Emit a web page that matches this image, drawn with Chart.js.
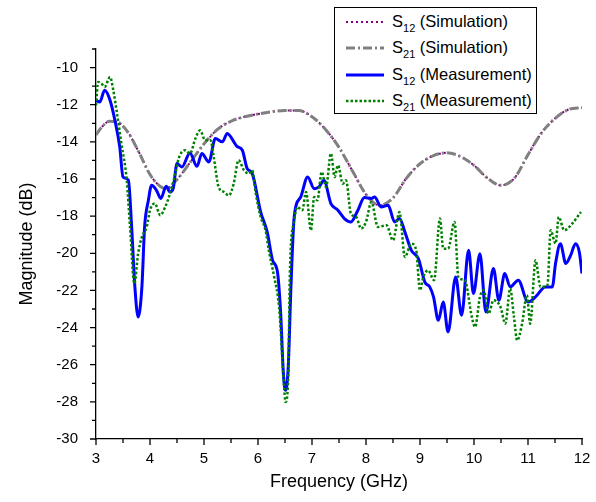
<!DOCTYPE html>
<html>
<head>
<meta charset="utf-8">
<script src="https://cdn.jsdelivr.net/npm/chart.js@4.4.1/dist/chart.umd.min.js"></script>
<style>
  html, body { margin: 0; padding: 0; background: #fff; }
  #wrap { position: relative; width: 596px; height: 502px; }
  #legend {
    position: absolute; left: 334px; top: 7px; width: 201px; height: 105px;
    border: 1px solid #000; background: #fff;
    font-family: Arial, 'Liberation Sans', sans-serif; font-size: 16.5px; color: #000;
  }
  .row { position: absolute; left: 0; width: 200px; height: 26px; }
  .row svg { position: absolute; left: 10px; top: 10px; }
  .row span { position: absolute; left: 57px; top: 3px; white-space: nowrap; }
  .row sub { font-size: 11px; vertical-align: -5px; line-height: 0; }
</style>
</head>
<body>
<div id="wrap">
  <canvas id="chart" width="596" height="502"></canvas>
  <div id="legend">
    <div class="row" style="top:1px">
      <svg width="40" height="6"><line x1="1" y1="3" x2="39" y2="3" stroke="#800080" stroke-width="2" stroke-dasharray="2,3"/></svg>
      <span>S<sub>12</sub> (Simulation)</span>
    </div>
    <div class="row" style="top:27px">
      <svg width="40" height="6"><line x1="1" y1="3" x2="39" y2="3" stroke="#808080" stroke-width="3" stroke-dasharray="9,3,2,3"/></svg>
      <span>S<sub>21</sub> (Simulation)</span>
    </div>
    <div class="row" style="top:54px">
      <svg width="40" height="6"><line x1="1" y1="3" x2="39" y2="3" stroke="#0000ff" stroke-width="3"/></svg>
      <span>S<sub>12</sub> (Measurement)</span>
    </div>
    <div class="row" style="top:80px">
      <svg width="40" height="6"><line x1="1" y1="3" x2="39" y2="3" stroke="#008000" stroke-width="2.5" stroke-dasharray="2.5,2"/></svg>
      <span>S<sub>21</sub> (Measurement)</span>
    </div>
  </div>
</div>
<script>
'use strict';

// axis limits and ticks
const xMin = 3, xMax = 12;
const yMin = -30, yMax = -9;

// simulated S12 / S21 (curves coincide)
const simFreq = [3.0, 3.1, 3.25, 3.4, 3.6, 3.8, 4.0, 4.2, 4.3, 4.5, 4.75, 5.0, 5.25, 5.5, 5.75, 6.0,
    6.25, 6.5, 6.75, 7.0, 7.25, 7.5, 7.75, 8.0, 8.25, 8.5, 8.75, 9.0, 9.25, 9.5, 9.75, 10.0,
    10.25, 10.5, 10.75, 11.0, 11.25, 11.5, 11.75, 12.0];
const simDb = [-13.62, -13.23, -12.89, -12.94, -13.52, -14.59, -15.76, -16.42, -16.52, -16.03, -15.08, -14.11,
    -13.33, -12.89, -12.65, -12.5, -12.38, -12.31, -12.31, -12.65, -13.33, -14.3, -15.57, -16.83,
    -17.42, -17.02, -15.95, -15.18, -14.74, -14.59, -14.79, -15.27, -15.95, -16.34, -15.95, -14.69,
    -13.52, -12.74, -12.26, -12.16];

// measured S12
const s12Freq = [3.0, 3.07, 3.16, 3.26, 3.35, 3.44, 3.5, 3.6, 3.66, 3.72, 3.78, 3.85, 3.9, 3.97, 4.03, 4.12,
    4.2, 4.3, 4.37, 4.43, 4.5, 4.59, 4.74, 4.87, 4.96, 5.09, 5.21, 5.34, 5.43, 5.61, 5.71, 5.8,
    5.89, 6.05, 6.17, 6.27, 6.36, 6.42, 6.47, 6.51, 6.56, 6.61, 6.67, 6.79, 6.92, 7.04, 7.13, 7.22,
    7.35, 7.48, 7.6, 7.72, 7.85, 7.97, 8.1, 8.16, 8.28, 8.41, 8.53, 8.62, 8.72, 8.84, 8.97, 9.09,
    9.18, 9.25, 9.34, 9.43, 9.52, 9.66, 9.77, 9.9, 9.99, 10.11, 10.22, 10.36, 10.46, 10.57, 10.67, 10.82,
    11.0, 11.14, 11.32, 11.45, 11.51, 11.6, 11.7, 11.79, 11.88, 11.95, 12.0];
const s12Db = [-11.76, -11.85, -11.22, -11.76, -12.84, -14.28, -15.89, -16.07, -18.58, -21.81, -23.43, -21.81, -18.58, -17.15, -16.34, -16.61,
    -17.05, -16.39, -16.7, -16.5, -15.17, -15.35, -14.6, -15.32, -14.63, -15.08, -13.82, -14.0, -13.55, -14.24, -14.45, -15.44,
    -15.69, -17.78, -18.85, -20.38, -21.0, -23.25, -26.48, -27.38, -26.12, -21.81, -18.05, -16.97, -15.89, -16.52, -16.43, -16.07,
    -17.32, -17.68, -18.13, -18.31, -17.68, -17.0, -17.05, -16.97, -17.51, -17.42, -18.31, -18.13, -18.85, -19.84, -20.29, -21.55,
    -21.81, -22.35, -23.61, -22.62, -24.24, -21.28, -23.34, -19.84, -22.17, -20.02, -23.16, -20.82, -22.53, -21.09, -21.81, -21.45,
    -22.62, -22.35, -21.81, -21.81, -20.55, -19.48, -20.55, -20.11, -19.48, -19.93, -21.09];

// measured S21
const s21Freq = [3.0, 3.04, 3.1, 3.16, 3.26, 3.32, 3.38, 3.47, 3.57, 3.63, 3.71, 3.78, 3.85, 3.94, 4.0, 4.09,
    4.19, 4.28, 4.37, 4.47, 4.53, 4.65, 4.74, 4.84, 4.93, 5.02, 5.12, 5.18, 5.27, 5.37, 5.46, 5.55,
    5.64, 5.74, 5.83, 5.89, 5.96, 6.05, 6.14, 6.2, 6.3, 6.39, 6.48, 6.51, 6.56, 6.59, 6.67, 6.73,
    6.82, 6.89, 6.98, 7.04, 7.1, 7.18, 7.26, 7.35, 7.42, 7.48, 7.57, 7.63, 7.72, 7.82, 7.91, 8.0,
    8.1, 8.22, 8.38, 8.5, 8.62, 8.72, 8.84, 8.93, 9.0, 9.06, 9.15, 9.26, 9.37, 9.43, 9.52, 9.64,
    9.71, 9.83, 9.96, 10.02, 10.11, 10.18, 10.27, 10.36, 10.49, 10.58, 10.67, 10.74, 10.8, 10.89, 10.98, 11.04,
    11.14, 11.23, 11.36, 11.42, 11.51, 11.57, 11.67, 11.82, 11.98];
const s21Db = [-12.03, -10.78, -10.86, -11.04, -10.51, -11.22, -12.3, -14.09, -16.07, -18.58, -21.63, -20.02, -19.12, -18.58, -17.68, -17.32,
    -17.95, -17.51, -16.79, -15.71, -14.9, -14.45, -14.63, -13.82, -13.38, -13.91, -13.91, -14.81, -16.43, -16.7, -16.88, -16.25,
    -14.99, -15.53, -15.71, -15.53, -16.79, -18.05, -18.76, -19.84, -21.28, -22.89, -27.02, -28.01, -26.66, -21.09, -18.22, -17.51,
    -17.68, -16.7, -18.76, -16.97, -17.15, -15.62, -16.43, -14.63, -15.89, -15.26, -16.25, -16.07, -17.86, -18.05, -18.67, -18.31,
    -17.24, -18.58, -18.49, -19.3, -17.78, -20.2, -19.48, -19.84, -21.99, -21.28, -20.92, -21.45, -18.13, -19.75, -19.75, -18.31,
    -21.28, -21.45, -23.43, -23.97, -22.35, -21.99, -23.25, -22.53, -22.89, -23.79, -21.9, -23.43, -24.69, -23.79, -22.26, -23.79,
    -20.38, -21.81, -21.72, -18.76, -19.48, -18.05, -18.76, -18.4, -17.78];

function pts(xs, ys) {
    return xs.map((x, i) => ({x: x, y: ys[i]}));
}

// minor + major tick marks outside the axes
const tickMarks = {
    id: 'tickMarks',
    afterDraw(chart) {
        const ctx = chart.ctx, sx = chart.scales.x, sy = chart.scales.y;
        ctx.save();
        ctx.strokeStyle = '#000';
        ctx.lineWidth = 1.3;
        ctx.beginPath();
        for (let v = xMin; v <= xMax + 1e-6; v += 0.5) {
            const px = sx.getPixelForValue(v);
            const len = Number.isInteger(v) ? 6 : 4;
            ctx.moveTo(px, sy.bottom);
            ctx.lineTo(px, sy.bottom + len);
        }
        for (let v = yMin; v <= yMax; v++) {
            const py = sy.getPixelForValue(v);
            const len = v % 2 === 0 ? 6 : 4;
            ctx.moveTo(sx.left, py);
            ctx.lineTo(sx.left - len, py);
        }
        ctx.stroke();
        ctx.restore();
    }
};

const font = 'Arial, "Liberation Sans", sans-serif';

new Chart(document.getElementById('chart').getContext('2d'), {
    type: 'line',
    data: {
        datasets: [
            {
                label: 'S21 (Measurement)', data: pts(s21Freq, s21Db), order: 0,
                borderColor: '#008000', borderWidth: 2.5, borderDash: [2.5, 2]
            },
            {
                label: 'S12 (Measurement)', data: pts(s12Freq, s12Db), order: 1,
                borderColor: '#0000ff', borderWidth: 3
            },
            {
                label: 'S21 (Simulation)', data: pts(simFreq, simDb), order: 2,
                borderColor: '#808080', borderWidth: 3, borderDash: [9, 3, 2, 3]
            },
            {
                label: 'S12 (Simulation)', data: pts(simFreq, simDb), order: 3,
                borderColor: '#800080', borderWidth: 2, borderDash: [2, 3]
            }
        ]
    },
    options: {
        responsive: false,
        animation: false,
        elements: {
            point: {radius: 0},
            line: {cubicInterpolationMode: 'monotone', fill: false}
        },
        layout: {padding: {top: 49, right: 14, left: 0, bottom: 0}},
        plugins: {legend: {display: false}, tooltip: {enabled: false}},
        scales: {
            x: {
                type: 'linear', min: xMin, max: xMax,
                grid: {display: false},
                border: {display: true, color: '#000', width: 1.3},
                ticks: {stepSize: 1, color: '#000', padding: 3, font: {family: font, size: 15}, autoSkip: false, maxRotation: 0},
                title: {display: true, text: 'Frequency (GHz)', color: '#000', font: {family: font, size: 18}, padding: {top: 0, bottom: 9}},
                afterFit(scale) { scale.height = 63; }
            },
            y: {
                type: 'linear', min: yMin, max: yMax,
                grid: {display: false},
                border: {display: true, color: '#000', width: 1.3},
                ticks: {
                    stepSize: 1, color: '#000', padding: 10, font: {family: font, size: 15}, autoSkip: false,
                    callback: v => (v % 2 === 0 ? v : '')
                },
                title: {display: true, text: 'Magnitude (dB)', color: '#000', font: {family: font, size: 18}, padding: {top: 16, bottom: 0}},
                afterFit(scale) { scale.width = 96; }
            }
        }
    },
    plugins: [tickMarks]
});
</script>
</body>
</html>
